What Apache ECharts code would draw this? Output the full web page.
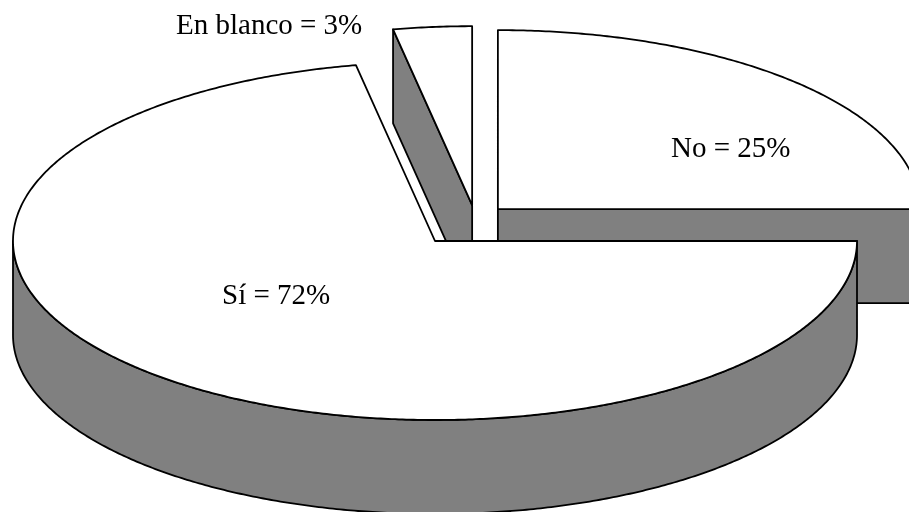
<!DOCTYPE html>
<html>
<head>
<meta charset="utf-8">
<script src="https://cdn.jsdelivr.net/npm/echarts@6/dist/echarts.min.js"></script>
<style>
  html, body { margin: 0; padding: 0; background: #ffffff; }
  #chart { width: 909px; height: 512px; }
</style>
</head>
<body>
<div id="chart"></div>
<script>
// Survey answers, drawn counter-clockwise from 3 o'clock
const categories = ['No', 'En blanco', 'Sí'];
const values = [25, 3, 72];
const labelTexts = ['No = 25%', 'En blanco = 3%', 'Sí = 72%'];

// Exploded offset of each slice from the pie centre, in radius units (style)
const sliceShift = [[0.149, 0.178], [0.088, 0.2], [0, 0]];
const depth = 0.525;           // thickness of the pie, in vertical-radius units
const topColor = '#ffffff';
const sideColor = '#808080';
const edgeColor = '#000000';
const edgeWidth = 1.8;

const total = values.reduce((a, b) => a + b, 0);
const startAngles = [];
values.reduce((acc, v, i) => { startAngles[i] = acc; return acc + v; }, 0);

const chart = echarts.init(document.getElementById('chart'), null, { renderer: 'canvas' });

function renderSlice(params, api) {
  const i = params.dataIndex;
  const v = api.value(1);
  const a0 = startAngles[i] / total * Math.PI * 2;
  const a1 = a0 + v / total * Math.PI * 2;
  const sx = sliceShift[i][0], sy = sliceShift[i][1];

  const rim = (t, z) => api.coord([sx + Math.cos(t), sy + Math.sin(t) + z]);
  const hub = (z) => api.coord([sx, sy + z]);
  const arc = (from, to, z) => {
    const pts = [];
    const n = Math.max(2, Math.ceil(Math.abs(to - from) / (Math.PI / 360)));
    for (let k = 0; k <= n; k++) pts.push(rim(from + (to - from) * k / n, z));
    return pts;
  };
  const face = (points, fill) => ({
    type: 'polygon',
    shape: { points: points },
    style: { fill: fill, stroke: edgeColor, lineWidth: edgeWidth, lineJoin: 'round' }
  });

  const children = [];
  // cut face at the start angle (faces the viewer when cos > 0)
  if (Math.cos(a0) > 1e-6) {
    children.push(face([hub(0), rim(a0, 0), rim(a0, -depth), hub(-depth)], sideColor));
  }
  // cut face at the end angle (faces the viewer when cos < 0)
  if (Math.cos(a1) < -1e-6) {
    children.push(face([hub(0), rim(a1, 0), rim(a1, -depth), hub(-depth)], sideColor));
  }
  // outer wall: only the front half (angles between PI and 2PI) is visible
  const w0 = Math.max(a0, Math.PI), w1 = Math.min(a1, Math.PI * 2);
  if (w1 > w0) {
    const wall = arc(w0, w1, 0).concat(arc(w1, w0, -depth));
    children.push(face(wall, sideColor));
  }
  // top face
  children.push(face([hub(0)].concat(arc(a0, a1, 0)), topColor));

  return { type: 'group', children: children };
}

const labelFont = '29px "Liberation Serif", "Times New Roman", serif';
const labelPos = [[671, 149], [176, 26], [222, 296]];

chart.setOption({
  animation: false,
  backgroundColor: '#ffffff',
  grid: { left: 13, right: 52, top: 62, bottom: 92 },
  xAxis: { type: 'value', min: -1, max: 1, show: false },
  yAxis: { type: 'value', min: -1, max: 1, show: false },
  series: [{
    type: 'custom',
    name: 'Respuestas',
    clip: false,
    renderItem: renderSlice,
    data: categories.map((c, i) => ({ name: c, value: [i, values[i]] })),
    encode: { x: -1, y: -1 }
  }],
  graphic: labelTexts.map((t, i) => ({
    type: 'text',
    left: labelPos[i][0],
    top: labelPos[i][1] - 14,
    z: 100,
    style: { text: t, font: labelFont, fill: '#000000' }
  }))
});
</script>
</body>
</html>
